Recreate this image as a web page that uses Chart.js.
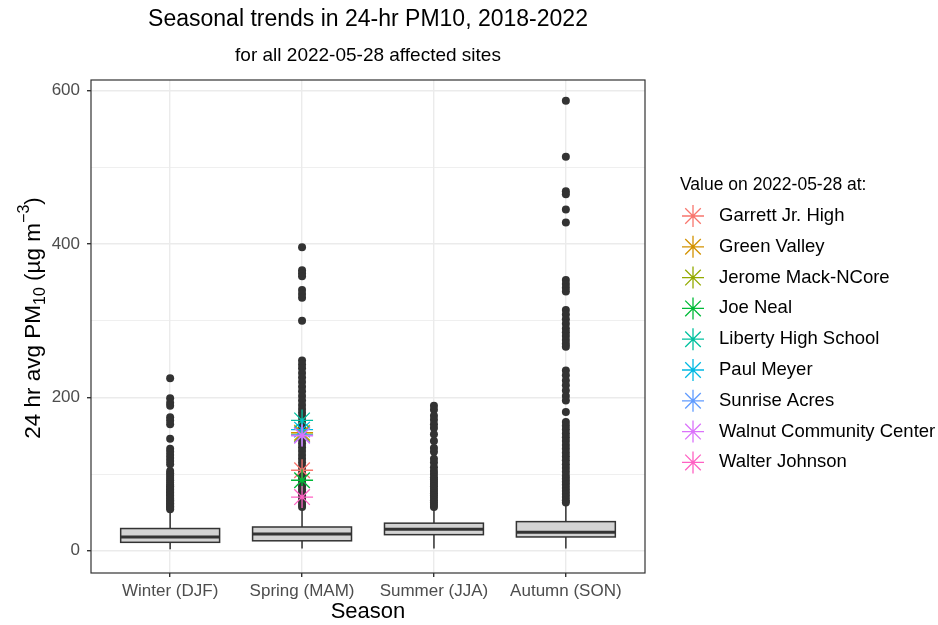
<!DOCTYPE html>
<html>
<head>
<meta charset="utf-8">
<script src="https://cdn.jsdelivr.net/npm/chart.js@4.4.1/dist/chart.umd.min.js"></script>
<style>
  html, body { margin: 0; padding: 0; background: #fff; }
  #wrap { width: 938px; height: 625px; }
</style>
</head>
<body>
<div id="wrap"><canvas id="pmChart" width="938" height="625"></canvas></div>
<script>
// Season categories
const seasons = ['Winter (DJF)', 'Spring (MAM)', 'Summer (JJA)', 'Autumn (SON)'];

// Box statistics per season (µg m-3)
const whiskerLow = [2, 3, 3, 3];
const q1 = [11, 13, 21, 18];
const median = [18, 22, 28, 24];
const q3 = [29, 31, 36, 38];
const whiskerHigh = [51, 55, 55, 61];

// Outliers per season
const winterOut = [225, 199, 193, 189, 174, 170, 165, 146, 133, 129, 125, 121, 117, 113, 104, 101, 98, 95, 92, 89, 86, 84, 82, 80, 78, 76, 74, 72, 70, 68, 66, 64, 62, 60, 58, 56, 54];
const springOut = [396, 366, 362, 358, 340, 335, 330, 300, 248, 243, 238, 232, 226, 220, 214, 208, 202, 196, 190, 185, 180, 175, 170, 165, 160, 155, 150, 145, 140, 135, 130, 125, 120, 115, 110, 105, 100, 96, 92, 88, 84, 80, 76, 72, 68, 64, 60, 57];
const summerOut = [189, 184, 176, 171, 165, 160, 152, 143, 134, 129, 120, 115, 109, 104, 100, 96, 93, 90, 87, 84, 81, 78, 75, 72, 69, 66, 63, 60, 57];
const autumnOut = [587, 514, 469, 465, 445, 428, 353, 348, 343, 338, 314, 308, 302, 296, 290, 285, 280, 275, 270, 266, 235, 229, 222, 216, 209, 202, 196, 181, 168, 163, 158, 153, 148, 143, 138, 133, 128, 123, 118, 113, 108, 103, 98, 94, 90, 86, 82, 78, 74, 70, 66, 63];

// Values on 2022-05-28 (all in spring)
const sites = ['Garrett Jr. High', 'Green Valley', 'Jerome Mack-NCore', 'Joe Neal', 'Liberty High School', 'Paul Meyer', 'Sunrise Acres', 'Walnut Community Center', 'Walter Johnson'];
const siteValues = [105, 154, 152, 92, 170, 158, 151, 150, 70];
const siteSeason = 2;

const siteColors = ['#F8766D', '#D39200', '#93AA00', '#00BA38', '#00C19F', '#00B9E3', '#619CFF', '#DB72FB', '#FF61C3'];
const FONT = "'Liberation Sans', Arial, sans-serif";
Chart.defaults.font.family = FONT;

const outlierSets = [winterOut, springOut, summerOut, autumnOut];

const siteDatasets = sites.map((name, i) => ({
    label: name,
    data: [{ x: siteSeason, y: siteValues[i] }],
    pointStyle: 'star',
    pointRadius: 11,
    pointBorderColor: siteColors[i],
    pointBackgroundColor: siteColors[i],
    pointBorderWidth: 1.3
}));

const outlierDataset = {
    label: 'outliers',
    data: outlierSets.flatMap((vals, i) => vals.map(v => ({ x: i + 1, y: v }))),
    pointRadius: 4,
    pointBackgroundColor: '#333333',
    pointBorderWidth: 0
};

function drawStar(ctx, cx, cy, r, color) {
    ctx.save();
    ctx.strokeStyle = color;
    ctx.lineWidth = 1.3;
    ctx.beginPath();
    for (let k = 0; k < 4; k++) {
        const a = k * Math.PI / 4;
        ctx.moveTo(cx - Math.cos(a) * r, cy - Math.sin(a) * r);
        ctx.lineTo(cx + Math.cos(a) * r, cy + Math.sin(a) * r);
    }
    ctx.stroke();
    ctx.restore();
}

// boxes and whiskers, drawn under the points
const boxPlugin = {
    id: 'boxes',
    beforeDatasetsDraw(chart) {
        const { ctx, scales: { x, y } } = chart;
        ctx.save();
        seasons.forEach((s, i) => {
            const cx = x.getPixelForValue(i + 1);
            const left = x.getPixelForValue(i + 1 - 0.375);
            const right = x.getPixelForValue(i + 1 + 0.375);
            const top = y.getPixelForValue(q3[i]);
            const bot = y.getPixelForValue(q1[i]);
            ctx.strokeStyle = '#333333';
            ctx.lineWidth = 1.5;
            ctx.beginPath();
            ctx.moveTo(cx, y.getPixelForValue(whiskerLow[i]));
            ctx.lineTo(cx, bot);
            ctx.moveTo(cx, top);
            ctx.lineTo(cx, y.getPixelForValue(whiskerHigh[i]));
            ctx.stroke();
            ctx.fillStyle = '#D3D3D3';
            ctx.fillRect(left, top, right - left, bot - top);
            ctx.strokeRect(left, top, right - left, bot - top);
            const m = y.getPixelForValue(median[i]);
            ctx.lineWidth = 3;
            ctx.beginPath();
            ctx.moveTo(left, m);
            ctx.lineTo(right, m);
            ctx.stroke();
        });
        ctx.restore();
    }
};

// titles, y axis title, panel border and legend
const decorPlugin = {
    id: 'decor',
    afterDraw(chart) {
        const { ctx, chartArea } = chart;
        const midX = (chartArea.left + chartArea.right) / 2;
        ctx.save();

        // panel border
        ctx.strokeStyle = '#333333';
        ctx.lineWidth = 1.2;
        ctx.strokeRect(chartArea.left, chartArea.top, chartArea.right - chartArea.left, chartArea.bottom - chartArea.top);

        // titles
        ctx.fillStyle = '#000';
        ctx.textAlign = 'center';
        ctx.textBaseline = 'middle';
        ctx.font = '23px ' + FONT;
        ctx.fillText('Seasonal trends in 24-hr PM10, 2018-2022', midX, 20);
        ctx.font = '19px ' + FONT;
        ctx.fillText('for all 2022-05-28 affected sites', midX, 56);

        // y axis title with sub/superscripts
        const parts = [
            { t: '24 hr avg PM', size: 22.5, dy: 0 },
            { t: '10', size: 16, dy: 5 },
            { t: ' (µg m', size: 22.5, dy: 0 },
            { t: '\u22123', size: 16, dy: -11 },
            { t: ')', size: 22.5, dy: 0 }
        ];
        let total = 0;
        parts.forEach(p => { ctx.font = p.size + 'px ' + FONT; p.w = ctx.measureText(p.t).width; total += p.w; });
        ctx.save();
        ctx.translate(40, 318);
        ctx.rotate(-Math.PI / 2);
        ctx.textAlign = 'left';
        ctx.textBaseline = 'alphabetic';
        let px = -total / 2;
        parts.forEach(p => {
            ctx.font = p.size + 'px ' + FONT;
            ctx.fillText(p.t, px, p.dy);
            px += p.w;
        });
        ctx.restore();

        // legend
        ctx.textAlign = 'left';
        ctx.textBaseline = 'middle';
        ctx.font = '17.5px ' + FONT;
        ctx.fillText('Value on 2022-05-28 at:', 680, 185);
        ctx.font = '18.5px ' + FONT;
        sites.forEach((name, i) => {
            const yy = 216 + i * 30.8;
            drawStar(ctx, 693, yy, 11, siteColors[i]);
            ctx.fillStyle = '#000';
            ctx.fillText(name, 719, yy);
        });
        ctx.restore();
    }
};

new Chart(document.getElementById('pmChart').getContext('2d'), {
    type: 'scatter',
    data: {
        // last site first so it is drawn on top
        datasets: [...siteDatasets.slice().reverse(), outlierDataset]
    },
    options: {
        responsive: false,
        animation: false,
        devicePixelRatio: 1,
        layout: { padding: { top: 80, right: 293, bottom: 0, left: 0 } },
        plugins: {
            legend: { display: false },
            tooltip: { enabled: false },
            title: { display: false }
        },
        scales: {
            x: {
                type: 'linear',
                min: 0.4,
                max: 4.6,
                afterBuildTicks: s => { s.ticks = seasons.map((_, i) => ({ value: i + 1 })); },
                afterFit: s => { s.height = 52; },
                grid: { color: '#EBEBEB', lineWidth: 1.4, tickColor: '#333333', tickLength: 4 },
                border: { display: false },
                ticks: {
                    callback: v => seasons[Math.round(v) - 1],
                    color: '#4D4D4D',
                    font: { size: 17 },
                    padding: 4,
                    maxRotation: 0,
                    autoSkip: false
                },
                title: { display: true, text: 'Season', color: '#000', font: { size: 22 }, padding: { top: 0, bottom: 0 } }
            },
            y: {
                min: -29,
                max: 614,
                afterBuildTicks: s => { s.ticks = [0, 100, 200, 300, 400, 500, 600].map(v => ({ value: v })); },
                afterFit: s => { s.width = 91; },
                grid: {
                    color: '#EBEBEB',
                    lineWidth: c => (c.tick && c.tick.value % 200 ? 0.8 : 1.4),
                    tickColor: c => (c.tick && c.tick.value % 200 ? 'rgba(0,0,0,0)' : '#333333'),
                    tickLength: 4
                },
                border: { display: false },
                ticks: {
                    callback: v => (v % 200 ? '' : v),
                    color: '#4D4D4D',
                    font: { size: 17 },
                    padding: 7
                }
            }
        }
    },
    plugins: [boxPlugin, decorPlugin]
});
</script>
</body>
</html>
